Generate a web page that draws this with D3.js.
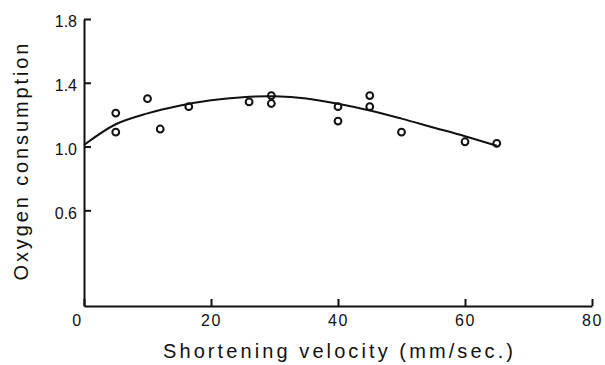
<!DOCTYPE html>
<html>
<head>
<meta charset="utf-8">
<script src="https://cdn.jsdelivr.net/npm/d3@7"></script>
<style>
  body { margin: 0; background: #fff; }
  svg text { font-family: "Liberation Sans", Arial, sans-serif; fill: #111; }
</style>
</head>
<body>
<div id="chart"></div>
<script>
// measured points
var velocity = [5, 5, 10, 12, 16.5, 26, 29.5, 29.5, 40, 40, 45, 45, 50, 60, 65];
var oxygen   = [1.21, 1.09, 1.30, 1.11, 1.25, 1.28, 1.32, 1.27, 1.25, 1.16, 1.32, 1.25, 1.09, 1.03, 1.02];

// fitted curve
var fitVelocity = [0, 5, 10, 15, 20, 25, 30, 35, 40, 45, 50, 55, 60, 65];
var fitOxygen   = [1.01, 1.14, 1.208, 1.256, 1.29, 1.31, 1.315, 1.302, 1.268, 1.226, 1.175, 1.12, 1.065, 1.005];

var xTicks = [0, 20, 40, 60, 80];
var yTicks = [0.6, 1.0, 1.4, 1.8];

var width = 605, height = 365;

var svg = d3.select("#chart")
  .append("svg")
    .attr("width", width)
    .attr("height", height);

var x = d3.scaleLinear().domain([0, 80]).range([84, 592]);
var y = d3.scaleLinear().domain([0, 1.8]).range([306, 19]);

var xAxis = svg.append("g")
    .attr("transform", "translate(0,306)")
    .call(d3.axisBottom(x).tickValues(xTicks).tickSize(-7).tickSizeOuter(0).tickPadding(9)
      .tickFormat(d3.format("d")));

var yAxis = svg.append("g")
    .attr("transform", "translate(84,0)")
    .call(d3.axisLeft(y).tickValues(yTicks).tickSize(-7).tickSizeOuter(0).tickPadding(7)
      .tickFormat(d3.format(".1f")));

svg.selectAll(".domain, .tick line")
    .attr("stroke", "#111")
    .attr("stroke-width", 2);

svg.selectAll(".tick text")
    .style("font-family", "'Liberation Sans', Arial, sans-serif")
    .style("font-size", "16px")
    .attr("fill", "#111");

xAxis.selectAll(".tick text")
    .style("letter-spacing", "1.5px");
xAxis.selectAll(".tick text")
    .filter(function(d) { return d === 0; })
    .attr("x", -7);

yAxis.selectAll(".tick text")
    .attr("dy", "0.48em");

// fitted line
var line = d3.line()
    .x(function(d, i) { return x(fitVelocity[i]); })
    .y(function(d, i) { return y(fitOxygen[i]); })
    .curve(d3.curveCatmullRom.alpha(0.5));

svg.append("path")
    .datum(fitOxygen)
    .attr("d", line)
    .attr("fill", "none")
    .attr("stroke", "#111")
    .attr("stroke-width", 2);

svg.selectAll("circle.pt")
    .data(oxygen)
    .enter()
    .append("circle")
      .attr("class", "pt")
      .attr("cx", function(d, i) { return x(velocity[i]); })
      .attr("cy", function(d) { return y(d); })
      .attr("r", 3.4)
      .attr("fill", "none")
      .attr("stroke", "#111")
      .attr("stroke-width", 2);

// axis titles
svg.append("text")
    .attr("x", 338)
    .attr("y", 358)
    .attr("text-anchor", "middle")
    .attr("textLength", 350)
    .attr("lengthAdjust", "spacing")
    .style("font-size", "20px")
    .text("Shortening velocity (mm/sec.)");

svg.append("text")
    .attr("transform", "translate(28,162) rotate(-90)")
    .attr("text-anchor", "middle")
    .attr("textLength", 237)
    .attr("lengthAdjust", "spacing")
    .style("font-size", "20px")
    .text("Oxygen  consumption");
</script>
</body>
</html>
